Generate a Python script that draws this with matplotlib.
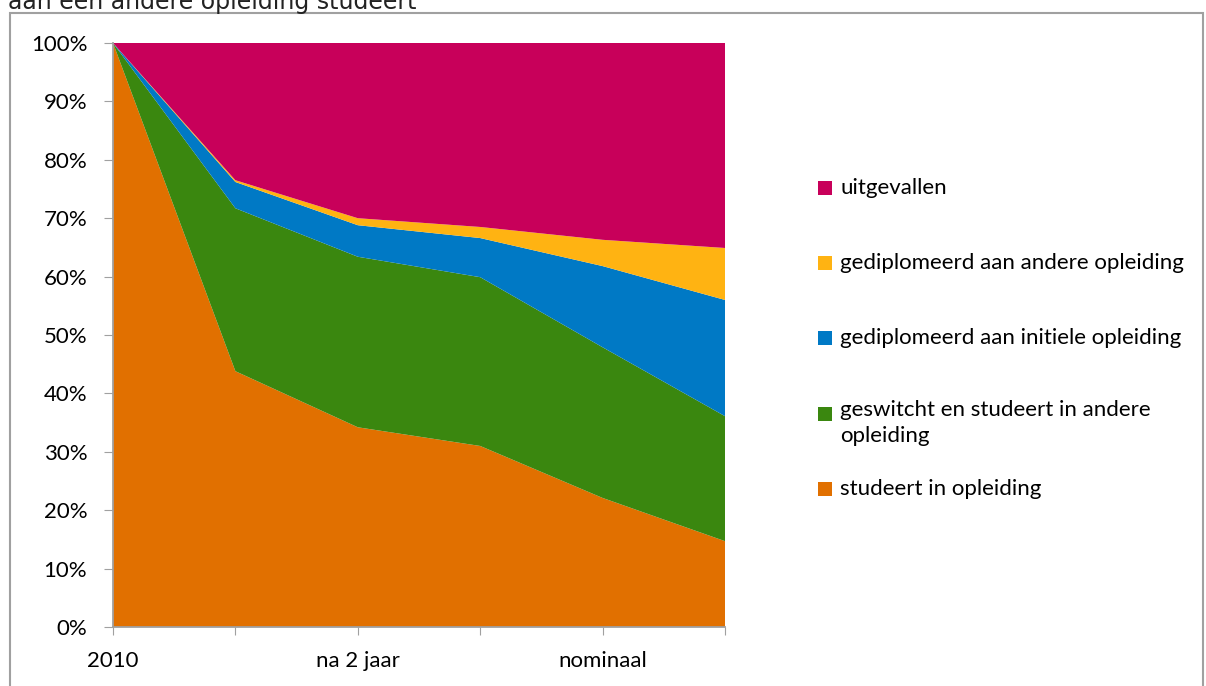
import matplotlib
matplotlib.use("Agg")
import matplotlib.pyplot as plt
from matplotlib.patches import Rectangle
from matplotlib.ticker import PercentFormatter

# data (percent of cohort, per point)
points = ["2010", "", "na 2 jaar", "", "nominaal", ""]
studeert = [100, 43.8, 34.2, 31.0, 22.1, 14.7]
geswitcht = [0, 27.9, 29.2, 28.9, 25.8, 21.4]
dipl_initieel = [0, 4.5, 5.4, 6.7, 13.9, 19.9]
dipl_ander = [0, 0.3, 1.2, 1.9, 4.5, 8.9]
uitgevallen = [0, 23.5, 30.0, 31.5, 33.7, 35.1]

labels = ["studeert in opleiding", "geswitcht en studeert in andere\nopleiding",
          "gediplomeerd aan initiele opleiding", "gediplomeerd aan andere opleiding",
          "uitgevallen"]
colors = ["#E17000", "#3A870F", "#0079C5", "#FFB312", "#C8005A"]

plt.rcParams['font.family'] = ['Lato', 'DejaVu Sans']

fig = plt.figure(figsize=(12.06, 6.86), dpi=100)
W, H = 1206, 686
ax = fig.add_axes([113 / W, 1 - 627 / H, (725 - 113) / W, (627 - 43) / H])

x = list(range(len(points)))
ax.stackplot(x, studeert, geswitcht, dipl_initieel, dipl_ander, uitgevallen,
             colors=colors, linewidth=0)
ax.set_xlim(0, len(points) - 1)
ax.set_ylim(0, 100)
ax.set_yticks(range(0, 101, 10))
ax.yaxis.set_major_formatter(PercentFormatter(decimals=0))
ax.set_xticks(x)
ax.set_xticklabels(points)
for s in ["top", "right"]:
    ax.spines[s].set_visible(False)
for s in ["left", "bottom"]:
    ax.spines[s].set_color("#A0A0A0")
    ax.spines[s].set_linewidth(1.3)
ax.tick_params(axis="y", length=6.5, color="#A0A0A0", labelsize=16, pad=12)
ax.tick_params(axis="x", length=6, color="#A0A0A0", labelsize=16, pad=11)

# outer chart border
fig.add_artist(Rectangle((10 / W, -0.05), (1203 - 10) / W, (H - 13) / H + 0.05,
                         transform=fig.transFigure, fill=False,
                         edgecolor="#A0A0A0", linewidth=1.5))
# partially cut title line
fig.text(8 / W, 1 - 9 / H, "aan een andere opleiding studeert", fontsize=17,
         family="DejaVu Sans", va="baseline", ha="left", color="#222222")

# legend, top entry first
leg_y = [188, 263, 338, 414, 489]
for yy, lab, col in zip(leg_y, labels[::-1], colors[::-1]):
    fig.add_artist(Rectangle((818 / W, 1 - (yy + 7) / H), 14 / W, 14 / H,
                             transform=fig.transFigure, facecolor=col, edgecolor="none"))
    if "\n" in lab:
        fig.text(840 / W, 1 - (yy - 14) / H, lab, fontsize=16, va="top", ha="left",
                 linespacing=1.35)
    else:
        fig.text(840 / W, 1 - yy / H, lab, fontsize=16, va="center", ha="left")

fig.savefig("out.png", dpi=100)
